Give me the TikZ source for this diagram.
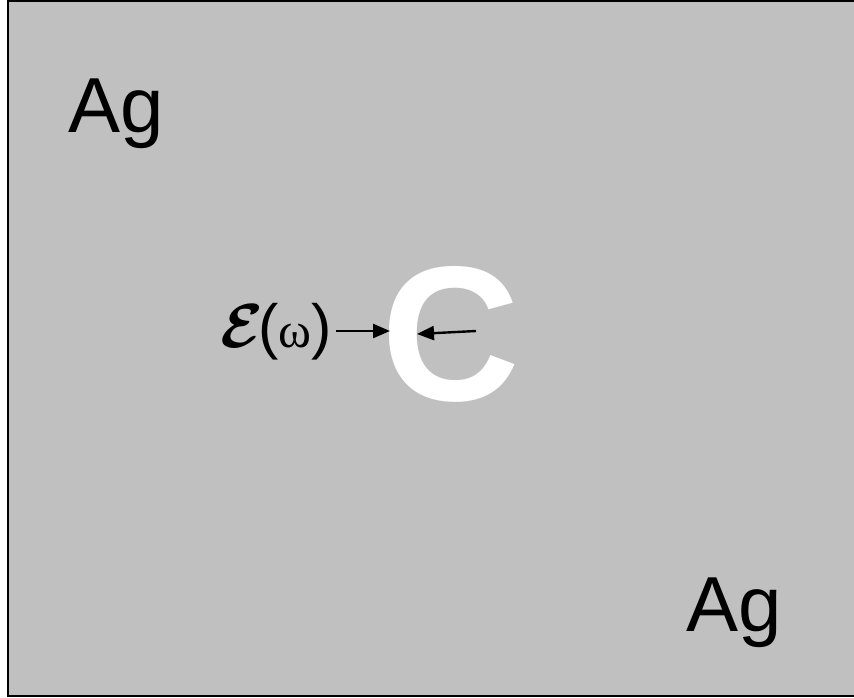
\documentclass[tikz,border=0pt]{standalone}
\usepackage{amsmath}
\usepackage{graphicx}
\usepackage{fontspec}
\setmainfont{Liberation Sans}
\newfontfamily\gregofont{Liberation Serif}
\usepackage{tikz}
\usetikzlibrary{arrows.meta, positioning}

\definecolor{fundo}{HTML}{C0C0C0}

\begin{document}
\begin{tikzpicture}[
    x=1pt, y=-1pt,
    % Estilo dos rótulos do metal
    metal/.style={anchor=base west, inner sep=0pt, font=\fontsize{78}{80}\selectfont},
    % Letra grande da cavidade
    cavidade/.style={anchor=base, inner sep=0pt, text=white, font=\fontsize{192}{200}\selectfont\bfseries},
    rotulo/.style={anchor=base west, inner sep=0pt, font=\fontsize{61}{64}\selectfont},
    seta/.style={-{Triangle[length=17pt, width=14pt]}, line width=2.4pt, black}
]

\useasboundingbox (0,0) rectangle (854,698);
\clip (0,0) rectangle (854,698);

% Fundo cinza (metal)
\draw[line width=2pt, fill=fundo] (8,1.5) rectangle (870,696);

% Rótulos Ag
\node[metal] (ag_sup) at (68,133) {Ag};
\node[metal] (ag_inf) at (686,631) {Ag};

% Letra C
\node[cavidade] (letra_c) at (451,400) {C};

% Campo elétrico
\node[rotulo] (campo) at (220,347) {\scalebox{2.5}{$\boldsymbol{\mathcal{E}}$}\kern-5pt({\gregofont\fontsize{50}{52}\selectfont ω})};
\coordinate (ponta_esq) at (390,331);
\coordinate (cauda_dir) at (476,331);
\coordinate (ponta_dir) at (417,334);

% Setas
\draw[seta] (campo.east |- ponta_esq) ++(4,0) -- (ponta_esq);
\draw[seta] (cauda_dir) -- (ponta_dir);

\end{tikzpicture}
\end{document}
